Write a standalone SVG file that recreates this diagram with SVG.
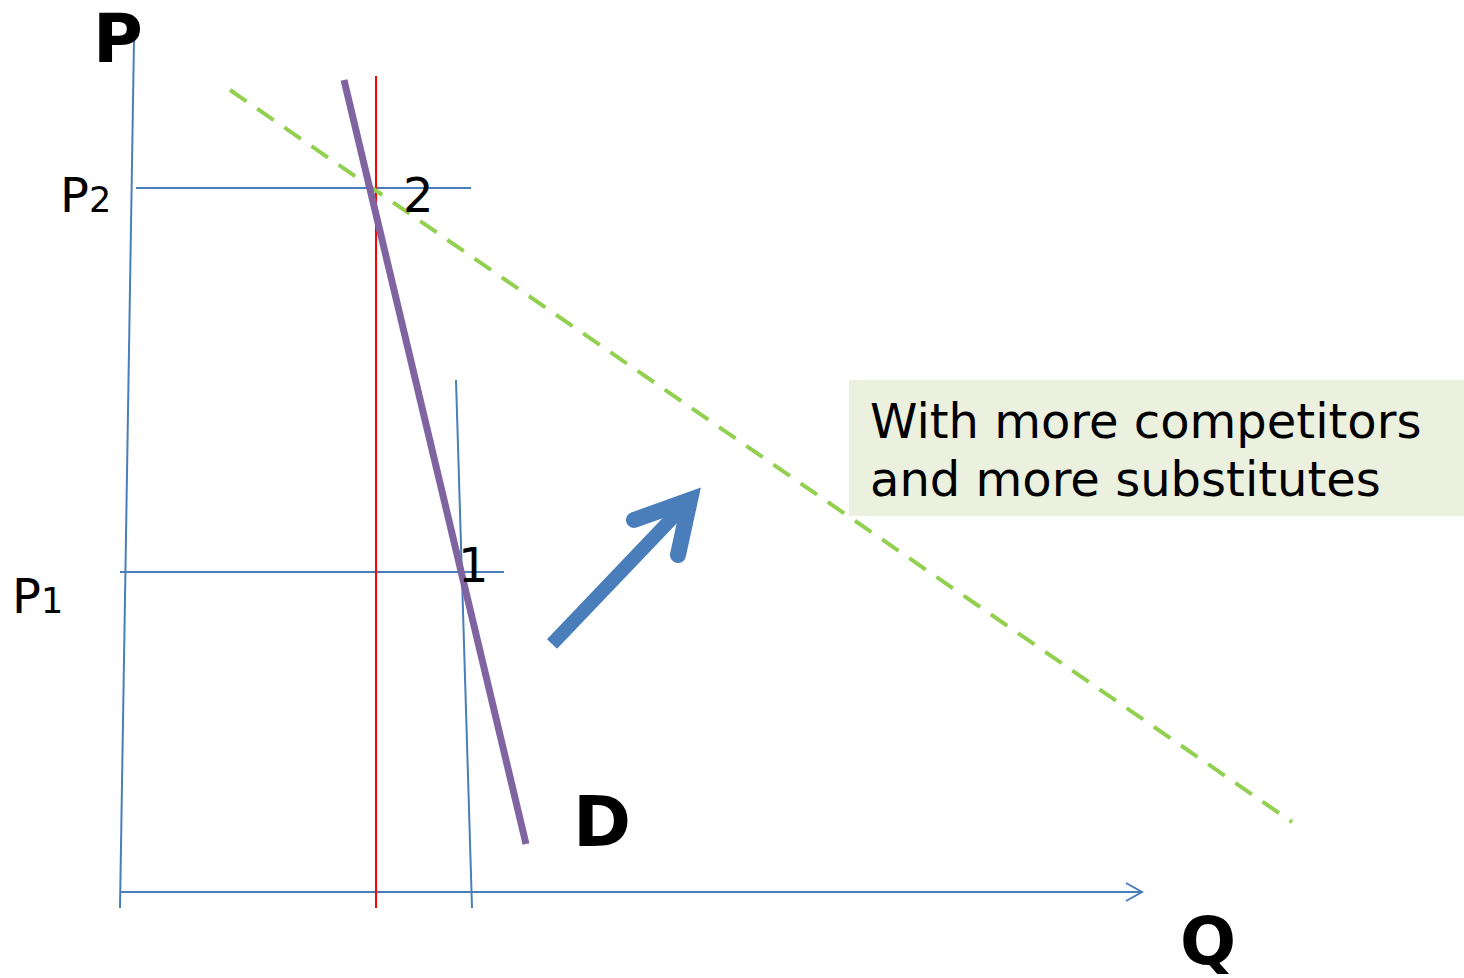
<svg xmlns="http://www.w3.org/2000/svg" width="1464" height="978" viewBox="0 0 1464 978">
<style>
.ax{stroke:#4A7EBB;stroke-width:2;fill:none}
.lbl{font-family:"DejaVu Sans",Verdana,sans-serif;fill:#000}
.b{font-weight:bold}
</style>
<rect width="1464" height="978" fill="#fff"/>
<g id="axes">
<line class="ax" x1="134" y1="40" x2="120" y2="908"/>
<line class="ax" x1="120" y1="892" x2="1142" y2="892"/>
<polyline class="ax" points="1126,883 1142,892 1126,901"/>
</g>
<g id="guides">
<line class="ax" x1="136" y1="188" x2="471" y2="188"/>
<line class="ax" x1="120" y1="572" x2="504" y2="572"/>
<line class="ax" x1="456" y1="380" x2="472" y2="908"/>
<line x1="376" y1="76" x2="376" y2="908" stroke="#FF0000" stroke-width="2"/>
</g>
<g id="demand-new">
<line x1="230" y1="90" x2="1292" y2="822" stroke="#92D050" stroke-width="4" stroke-dasharray="20 13"/>
</g>
<g id="demand-D">
<line x1="344" y1="80" x2="526" y2="844" stroke="#8064A2" stroke-width="7"/>
</g>
<g id="shift-arrow">
<line x1="552" y1="644" x2="680" y2="510" stroke="#4A7EBB" stroke-width="14"/>
<path d="M634,520 L690,500 L678,555" fill="none" stroke="#4A7EBB" stroke-width="16" stroke-linecap="round" stroke-linejoin="miter"/>
</g>
<g id="note">
<rect x="849" y="380" width="615" height="136" fill="#EBF1DE"/>
<text class="lbl" x="870" y="438" font-size="48">With more competitors</text>
<text class="lbl" x="870" y="496" font-size="48">and more substitutes</text>
</g>
<g id="labels">
<text class="lbl b" x="93" y="62" font-size="68">P</text>
<text class="lbl" x="60" y="212" font-size="48">P<tspan font-size="35">2</tspan></text>
<text class="lbl" x="12" y="613" font-size="48">P<tspan font-size="35">1</tspan></text>
<text class="lbl" x="403" y="212" font-size="48">2</text>
<text class="lbl" x="458" y="582" font-size="48">1</text>
<text class="lbl b" x="573" y="846" font-size="70">D</text>
<text class="lbl b" x="1180" y="964" font-size="66">Q</text>
</g>
</svg>
